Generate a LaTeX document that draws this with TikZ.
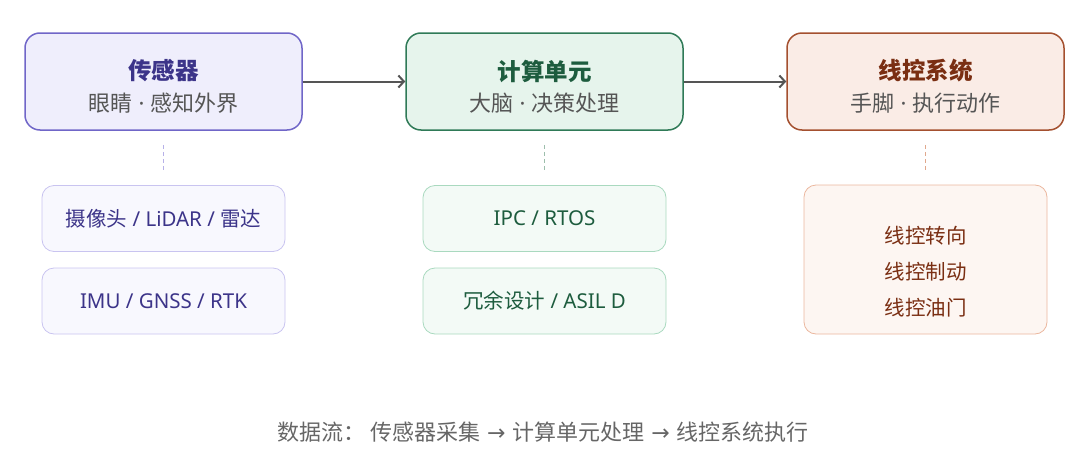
\documentclass[tikz,border=0pt]{standalone}
\usepackage{fontspec}
\setmainfont{Noto Sans CJK SC}
\newfontfamily\latinfont{Noto Sans}
\newfontfamily\arrowfont{DejaVu Sans}
\newcommand{\middot}{{\latinfont\ ·\ }}
\newcommand{\flowarrow}{{\arrowfont\ →\ }}
\usetikzlibrary{arrows.meta}
\definecolor{senLine}{HTML}{7066C8}
\definecolor{senFill}{HTML}{EFEEFC}
\definecolor{senText}{HTML}{3C3489}
\definecolor{senSubLine}{HTML}{C9C4F0}
\definecolor{senSubFill}{HTML}{F8F8FE}
\definecolor{cpuLine}{HTML}{2F7A57}
\definecolor{cpuFill}{HTML}{E6F4EC}
\definecolor{cpuText}{HTML}{1D5C3E}
\definecolor{cpuSubLine}{HTML}{A9D9BF}
\definecolor{cpuSubFill}{HTML}{F3FAF6}
\definecolor{actLine}{HTML}{A4502F}
\definecolor{actFill}{HTML}{FAECE6}
\definecolor{actText}{HTML}{7A2E12}
\definecolor{actSubLine}{HTML}{EBB79E}
\definecolor{actSubFill}{HTML}{FDF6F2}
\definecolor{subGray}{HTML}{555555}

\begin{document}
\begin{tikzpicture}[x=1pt,y=-1pt,
    mainbox/.style={rounded corners=15pt,line width=1.5pt,minimum width=277pt,minimum height=97pt,inner sep=0pt},
    subbox/.style={rounded corners=12pt,line width=0.8pt,minimum width=243pt,minimum height=66pt,inner sep=0pt},
    titletext/.style={inner sep=0pt,font=\fontsize{23.5}{26}\selectfont\bfseries},
    subtext/.style={inner sep=0pt,text=subGray,font=\fontsize{22}{24}\selectfont},
    itemtext/.style={inner sep=0pt,align=center,font=\fontsize{20.5}{36}\selectfont},
    flow/.style={line width=2pt,draw=subGray,-{Straight Barb[length=5.5pt,width=12pt,line width=2pt]}},
    link/.style={line width=0.9pt,dash pattern=on 4pt off 3pt,shorten <=14pt,shorten >=13pt}]
    \useasboundingbox (0,0) rectangle (1080,474);
    % main boxes
    \node[mainbox,draw=senLine,fill=senFill] (sen) at (163.5,81.5) {};
    \node[mainbox,draw=cpuLine,fill=cpuFill] (cpu) at (544.5,81.5) {};
    \node[mainbox,draw=actLine,fill=actFill] (act) at (925.5,81.5) {};%
    \node[titletext,text=senText] (senT) at (163.5,71) {传感器};
    \node[subtext] (senS) at (163.5,103) {眼睛\middot 感知外界};
    \node[titletext,text=cpuText] (cpuT) at (544.5,71) {计算单元};
    \node[subtext] (cpuS) at (544.5,103) {大脑\middot 决策处理};
    \node[titletext,text=actText] (actT) at (925.5,71) {线控系统};
    \node[subtext] (actS) at (925.5,103) {手脚\middot 执行动作};%
    % sub boxes
    \node[subbox,draw=senSubLine,fill=senSubFill] (senA) at (163.5,218.5) {};
    \node[subbox,draw=senSubLine,fill=senSubFill] (senB) at (163.5,301) {};
    \node[subbox,draw=cpuSubLine,fill=cpuSubFill] (cpuA) at (544.5,218.5) {};
    \node[subbox,draw=cpuSubLine,fill=cpuSubFill] (cpuB) at (544.5,301) {};
    \node[subbox,draw=actSubLine,fill=actSubFill,minimum height=149pt] (actA) at (925.5,259.5) {};%
    \node[itemtext,text=senText] (senAT) at (senA) {摄像头{\latinfont\ / LiDAR / }雷达};
    \node[itemtext,text=senText,font=\fontsize{20.5}{24}\selectfont\latinfont] (senBT) at (senB) {IMU / GNSS / RTK};
    \node[itemtext,text=cpuText,font=\fontsize{20.5}{24}\selectfont\latinfont] (cpuAT) at (cpuA) {IPC / RTOS};
    \node[itemtext,text=cpuText] (cpuBT) at (cpuB) {冗余设计{\latinfont\ / ASIL D}};
    \node[itemtext,text=actText] (actAT) at (925.5,272) {线控转向\\线控制动\\线控油门};%
    % connectors
    \draw[flow] (sen.east) -- (cpu.west);
    \draw[flow] (cpu.east) -- (act.west);
    \draw[link,draw=senSubLine!80!senLine] (sen.south) -- (senA.north);
    \draw[link,draw=cpuSubLine!70!gray] (cpu.south) -- (cpuA.north);
    \draw[link,draw=actSubLine!85!actLine] (act.south) -- (actA.north);%
    \node[inner sep=0pt,text=subGray!90!white,font=\fontsize{22}{24}\selectfont] (note) at (543,432) {数据流：\ 传感器采集\flowarrow 计算单元处理\flowarrow 线控系统执行};
\end{tikzpicture}
\end{document}
